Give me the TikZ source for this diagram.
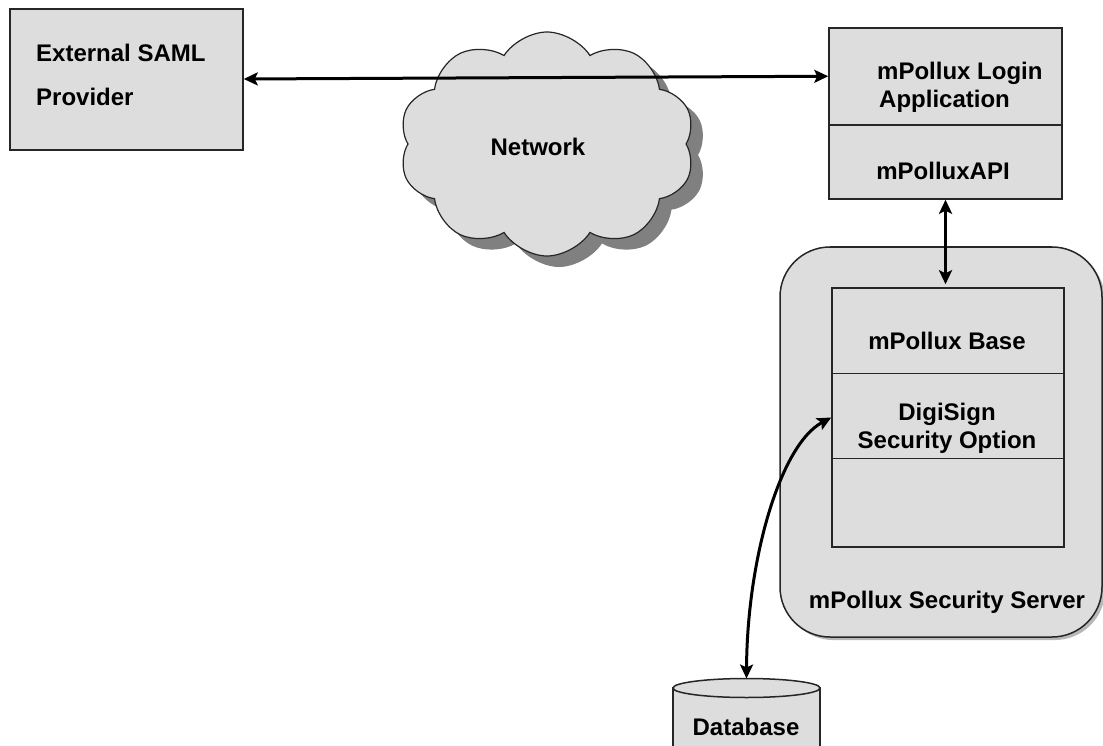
\documentclass[tikz,border=0pt]{standalone}
\usepackage{fontspec}
\setmainfont{Liberation Sans}
\usetikzlibrary{shapes.symbols,arrows.meta,calc}
\definecolor{boxgray}{gray}{0.867}
\definecolor{shadowgray}{gray}{0.5}
\definecolor{lightshadow}{gray}{0.72}
\tikzset{
  box/.style={draw=black!85, line width=1.5pt, fill=boxgray, inner sep=0pt},
  lbl/.style={font=\bfseries\fontsize{24}{28}\selectfont, inner sep=0pt},
  conn/.style={line width=3pt, {Stealth[length=14pt,width=13pt,inset=3pt]}-{Stealth[length=14pt,width=13pt,inset=3pt]}},
  divider/.style={draw=black!85, line width=1.5pt},
}
\begin{document}
\begin{tikzpicture}[x=1pt,y=-1pt]
\useasboundingbox (0,0) rectangle (1103,746);
% External SAML Provider
\node[box, minimum width=233pt, minimum height=141pt] (ext) at (126.5,79.5) {};
\node[lbl, anchor=base west] (extA) at (36,62) {External SAML};
\node[lbl, anchor=base west] (extB) at (36,106) {Provider};
% Network cloud
\node[cloud, cloud puffs=10, cloud puff arc=115, fill=shadowgray, draw=none, minimum width=296pt, minimum height=224pt, aspect=1.32] (netshadow) at (559,155) {};
\node[cloud, cloud puffs=10, cloud puff arc=115, box, line width=1.2pt, minimum width=296pt, minimum height=224pt, aspect=1.32] (net) at (547,144) {};
\node[lbl, anchor=base] (netlbl) at (538,155.7) {Network};
% Login application
\node[box, minimum width=233pt, minimum height=171pt] (login) at (945.5,113.5) {};
\draw[divider] ($(login.north west)+(0,98)$) -- ($(login.north east)+(0,98)$);
\node[lbl, anchor=base west] (loginA) at (877,80) {mPollux Login};
\node[lbl, anchor=base west] (loginB) at (879,108) {Application};
\node[lbl, anchor=base] (api) at (943,180) {mPolluxAPI};
% Security server
\node[fill=lightshadow, rounded corners=50pt, minimum width=322pt, minimum height=390pt] (srvshadow) at (944,445) {};
\node[box, rounded corners=50pt, minimum width=322pt, minimum height=390pt] (srv) at (941,442) {};
\node[box, minimum width=232pt, minimum height=259pt] (inner) at (948,417.5) {};
\draw[divider] ($(inner.north west)+(0,86)$) -- ($(inner.north east)+(0,86)$);
\draw[divider] ($(inner.north west)+(0,171)$) -- ($(inner.north east)+(0,171)$);
\node[lbl, anchor=base] (base) at (947,349) {mPollux Base};
\node[lbl, anchor=base] (digi) at (947,420) {DigiSign};
\node[lbl, anchor=base] (secopt) at (947,448) {Security Option};
\node[lbl, anchor=base] (srvlbl) at (947,608) {mPollux Security Server};
% Database
\path[box] (673,688) -- (673,790) -- (820,790) -- (820,688) -- cycle;
\draw[box] (746.5,688) ellipse [x radius=73.5, y radius=9.5];
\coordinate (dbtop) at (746.5,678.5);
\node[lbl, anchor=base] (db) at (746,735) {Database};
% Connectors
\draw[conn] ($(ext.east)+(0,-0.5)$) -- ($(login.north west)+(0,49)$);
\draw[conn] (login.south) -- ($(login.south |- inner.north)+(0,-3)$);
\draw[conn] (dbtop) .. controls (747,560) and (780,445) .. (inner.west);
\end{tikzpicture}
\end{document}
